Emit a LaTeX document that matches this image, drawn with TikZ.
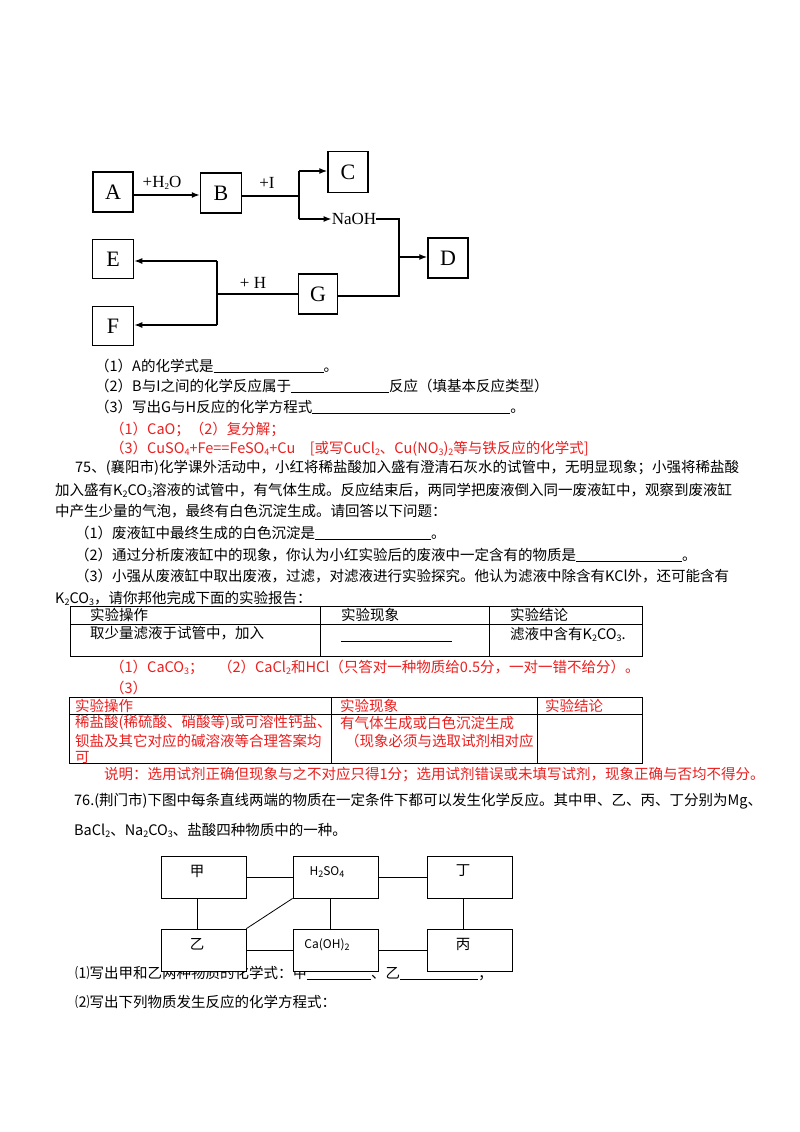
\documentclass[tikz,border=0pt]{standalone}
\usepackage{fontspec}
\setmainfont{Liberation Serif}
\newfontfamily\cjk{Noto Sans CJK SC}
\definecolor{ans}{RGB}{235,30,30}
\newcommand{\sbs}[1]{\raisebox{-2pt}{\fontsize{9}{9}\selectfont #1}}
\newcommand{\blank}[1]{\underline{\hbox to #1pt{}}}
\begin{document}
\begin{tikzpicture}[x=1pt,y=-1pt,
  bx/.style={draw,line width=1.5pt,inner sep=0pt,font=\fontsize{22}{22}\selectfont},
  cb/.style={draw,line width=0.8pt,inner sep=0pt},
  ln/.style={anchor=west,inner sep=0pt,font=\cjk\fontsize{14.5}{17}\selectfont},
  ar/.style={line width=1.4pt,-{Latex[length=8pt,width=6pt]}},
  l1/.style={line width=1.4pt},
  lab/.style={font=\fontsize{17}{17}\selectfont,inner sep=0pt}]
\useasboundingbox (0,0) rectangle (800,1132);
\usetikzlibrary{arrows.meta}
% top diagram
\node[bx,minimum width=40pt,minimum height=40pt] (A) at (113,192) {A};
\node[bx,minimum width=41pt,minimum height=40pt] (B) at (221,193) {B};
\node[bx,minimum width=40pt,minimum height=41pt] (C) at (348,172) {C};
\node[bx,minimum width=40pt,minimum height=40pt] (D) at (448,258) {D};
\node[bx,minimum width=41pt,minimum height=39pt] (E) at (113,259) {E};
\node[bx,minimum width=41pt,minimum height=39pt] (F) at (113,326) {F};
\node[bx,minimum width=39pt,minimum height=40pt] (G) at (318,294) {G};
\node[lab] (naoh) at (354,219) {NaOH};
\coordinate (b1) at (299,196);
\coordinate (b2) at (299,171);
\coordinate (b3) at (299,219);
\coordinate (d1) at (399,219);
\coordinate (d2) at (399,296);
\coordinate (d3) at (399,257);
\coordinate (g1) at (217,294);
\coordinate (g2) at (217,261);
\coordinate (g3) at (217,325);
\draw[ar] (A.east|-0,195) -- (B.west|-0,195);
\node[lab] at (162,183) {+H\sbs{2}O};
\draw[l1] (B.east|-b1) -- (b1);
\node[lab] at (267,183) {+I};
\draw[l1] (b2) -- (b3);
\draw[ar] (b2) -- (C.west|-b2);
\draw[ar] (b3) -- (naoh.west);
\draw[l1] (naoh.east) -- (d1) -- (d2) -- (G.east|-d2);
\draw[ar] (d3) -- (D.west|-d3);
\draw[l1] (G.west|-g1) -- (g1);
\node[lab] at (253,283) {+ H};
\draw[l1] (g2) -- (g3);
\draw[ar] (g2) -- (E.east|-g2);
\draw[ar] (g3) -- (F.east|-g3);
% questions
\node[ln] (q1) at (95,366) {（1）A的化学式是\blank{110}。};
\node[ln] (q2) at (95,386) {（2）B与I之间的化学反应属于\blank{98}反应（填基本反应类型）};
\node[ln] (q3) at (95,407) {（3）写出G与H反应的化学方程式\blank{198}。};
\node[ln,text=ans] (a1) at (110,429) {（1）CaO；（2）复分解；};
\node[ln,text=ans] (a2) at (110,449) {（3）CuSO\sbs{4}+Fe==FeSO\sbs{4}+Cu\quad [或写CuCl\sbs{2}、Cu(NO\sbs{3})\sbs{2}等与铁反应的化学式]};
\node[ln] (p1) at (75,468) {75、(襄阳市)化学课外活动中，小红将稀盐酸加入盛有澄清石灰水的试管中，无明显现象；小强将稀盐酸};
\node[ln] (p2) at (55,490) {加入盛有K\sbs{2}CO\sbs{3}溶液的试管中，有气体生成。反应结束后，两同学把废液倒入同一废液缸中，观察到废液缸};
\node[ln] (p3) at (55,511) {中产生少量的气泡，最终有白色沉淀生成。请回答以下问题：};
\node[ln] (p4) at (75,533) {（1）废液缸中最终生成的白色沉淀是\blank{116}。};
\node[ln] (p5) at (75,555) {（2）通过分析废液缸中的现象，你认为小红实验后的废液中一定含有的物质是\blank{106}。};
\node[ln] (p6) at (75,576) {（3）小强从废液缸中取出废液，过滤，对滤液进行实验探究。他认为滤液中除含有KCl外，还可能含有};
\node[ln] (p7) at (55,598) {K\sbs{2}CO\sbs{3}，请你邦他完成下面的实验报告：};
% table 1
\draw[line width=0.9pt] (70,606) rectangle (642,656);
\draw[line width=0.7pt] (70,624) -- (642,624) (320,606) -- (320,656) (489,606) -- (489,656);
\node[ln] (t1) at (90,615) {实验操作};
\node[ln] (t2) at (341,615) {实验现象};
\node[ln] (t3) at (510,615) {实验结论};
\node[ln] (t4) at (90,633) {取少量滤液于试管中，加入};
\draw[line width=0.8pt] (76,656) -- (189,656);
\draw[line width=0.8pt] (341,641) -- (452,641);
\node[ln] (t5) at (510,634) {滤液中含有K\sbs{2}CO\sbs{3}.};
\node[ln,text=ans] (a3) at (110,667) {（1）CaCO\sbs{3}；\quad（2）CaCl\sbs{2}和HCl（只答对一种物质给0.5分，一对一错不给分）。};
\node[ln,text=ans] (a4) at (110,688) {（3）};
% table 2
\draw[line width=0.9pt] (69,697) rectangle (642,763);
\draw[line width=0.7pt] (69,714) -- (642,714) (331,697) -- (331,763) (537,697) -- (537,763);
\node[ln,text=ans] at (75,706) {实验操作};
\node[ln,text=ans] at (340,706) {实验现象};
\node[ln,text=ans] at (545,706) {实验结论};
\node[ln,text=ans] at (75,723) {稀盐酸(稀硫酸、硝酸等)或可溶性钙盐、};
\node[ln,text=ans] at (75,741) {钡盐及其它对应的碱溶液等合理答案均};
\node[ln,text=ans] at (75,757) {可};
\node[ln,text=ans] at (340,723) {有气体生成或白色沉淀生成};
\node[ln,text=ans] at (345,741) {（现象必须与选取试剂相对应};
\node[ln,text=ans] (a5) at (104,775) {说明：选用试剂正确但现象与之不对应只得1分；选用试剂错误或未填写试剂，现象正确与否均不得分。};
\node[ln] (r1) at (74,801) {76.(荆门市)下图中每条直线两端的物质在一定条件下都可以发生化学反应。其中甲、乙、丙、丁分别为Mg、};
\node[ln] (r2) at (74,830) {BaCl\sbs{2}、Na\sbs{2}CO\sbs{3}、盐酸四种物质中的一种。};
% bottom diagram
\node[ln] at (75,973) {⑴写出甲和乙两种物质的化学式：甲\blank{64}、乙\blank{78}；};
\node[ln] at (75,1002) {⑵写出下列物质发生反应的化学方程式：};
\tikzset{kb/.style={cb,fill=white,minimum width=85pt,minimum height=42pt}}
\node[kb] (jia) at (203.5,877) {};
\node[kb] (hs) at (335.5,877) {};
\node[kb] (ding) at (469.5,877) {};
\node[kb] (yi) at (203.5,950) {};
\node[kb] (caoh) at (335.5,950) {};
\node[kb] (bing) at (469.5,950) {};
\node[ln,anchor=center] at (197,871) {甲};
\node[ln,anchor=center,font=\cjk\fontsize{12}{14}\selectfont] at (327,872) {H\sbs{2}SO\sbs{4}};
\node[ln,anchor=center] at (463,871) {丁};
\node[ln,anchor=center] at (197,944) {乙};
\node[ln,anchor=center,font=\cjk\fontsize{12}{14}\selectfont] at (327,945) {Ca(OH)\sbs{2}};
\node[ln,anchor=center] at (463,944) {丙};
\draw[line width=0.8pt] (jia) -- (hs);
\draw[line width=0.8pt] (hs) -- (ding);
\draw[line width=0.8pt] (yi) -- (caoh);
\draw[line width=0.8pt] (caoh) -- (bing);
\draw[line width=0.8pt] (jia.south-|197,0) -- (yi.north-|197,0);
\draw[line width=0.8pt] (hs.south-|330,0) -- (caoh.north-|330,0);
\draw[line width=0.8pt] (ding.south-|463,0) -- (bing.north-|463,0);
\draw[line width=0.8pt] (yi.north east) -- (hs.south west);
\end{tikzpicture}
\end{document}
